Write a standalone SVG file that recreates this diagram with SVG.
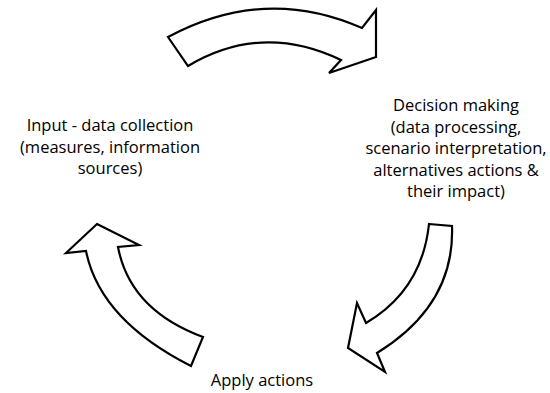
<svg xmlns="http://www.w3.org/2000/svg" width="550" height="393" viewBox="0 0 550 393">
<style>
.arrow{fill:#fff;stroke:#000;stroke-width:2.2;stroke-linejoin:miter}
.lbl{font-family:"Open Sans","Liberation Sans",sans-serif;font-size:16.5px;fill:#000;text-anchor:middle}
</style>
<rect width="550" height="393" fill="#fff"/>
<g id="connectors">
<path id="arrow-top" class="arrow" d="M168,37 Q265,-15 362,28 L376,10 L376,57 L329,73 L341,60 Q262,22 188,66 Z"/>
<path id="arrow-right" class="arrow" d="M429,224 L452,226 Q455,305 377,353 L385,372 L348,348 L357,303 L366,323 Q422,290 429,224 Z"/>
<path id="arrow-left" class="arrow" d="M97,224 L139,245 L118,247 Q130,310 203,337 L191,366 Q100,320 86,251 L66,253 Z"/>
</g>
<g id="node-input">
<text class="lbl" x="110" y="131">Input - data collection</text>
<text class="lbl" x="110" y="152.5">(measures, information</text>
<text class="lbl" x="110" y="174">sources)</text>
</g>
<g id="node-decision">
<text class="lbl" x="456" y="111">Decision making</text>
<text class="lbl" x="456" y="132.5">(data processing,</text>
<text class="lbl" x="456" y="154">scenario interpretation,</text>
<text class="lbl" x="456" y="175.5">alternatives actions &amp;</text>
<text class="lbl" x="456" y="197">their impact)</text>
</g>
<g id="node-apply">
<text class="lbl" x="262" y="386">Apply actions</text>
</g>
</svg>
